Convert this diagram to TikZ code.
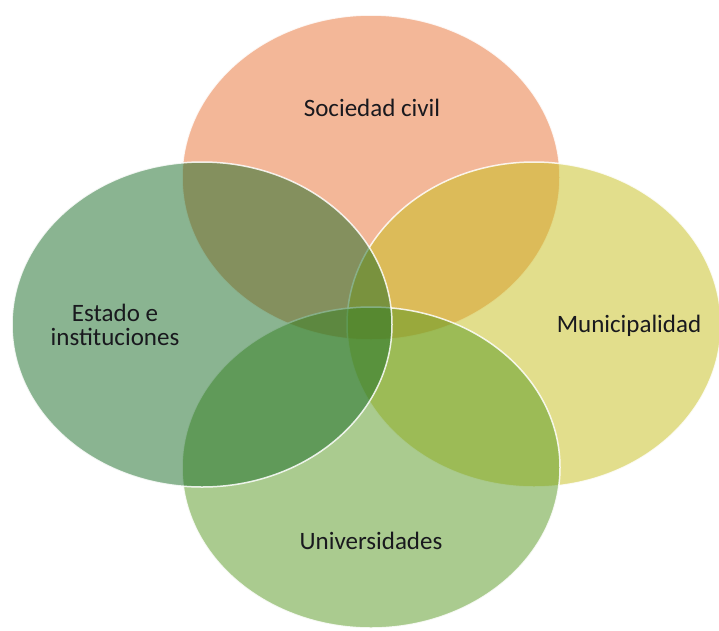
\documentclass[tikz,border=0pt]{standalone}
\usepackage{fontspec}
\setmainfont{Carlito}
\definecolor{cTop}{RGB}{233,113,51}
\definecolor{cRight}{RGB}{199,191,27}
\definecolor{cBottom}{RGB}{87,153,33}
\definecolor{cLeft}{RGB}{23,107,37}
\definecolor{txt}{RGB}{25,25,30}
\begin{document}
\begin{tikzpicture}[x=1pt,y=-1pt,
  blob/.style={fill opacity=0.5, draw=white, draw opacity=0.85, line width=1.5pt},
  lbl/.style={font=\fontsize{25}{24}\selectfont, text=txt, align=center, inner sep=0pt}]
\useasboundingbox[fill=white] (0,0) rectangle (719,630);
\clip (0,0) rectangle (719,630);
\fill[blob,fill=cTop] (371,177.5) ellipse [x radius=189, y radius=162.5];
\fill[blob,fill=cRight] (534,324.5) ellipse [x radius=187, y radius=162.5];
\fill[blob,fill=cBottom] (371,467.5) ellipse [x radius=189, y radius=160.5];
\fill[blob,fill=cLeft] (202,324.5) ellipse [x radius=190, y radius=162.5];
\node[lbl] (soc) at (372,108) {Sociedad civil};
\node[lbl] (mun) at (629,326) {Municipalidad};
\node[lbl] (uni) at (371,541) {Universidades};
\node[lbl] (est) at (115,325) {Estado e\\instituciones};
\end{tikzpicture}
\end{document}
